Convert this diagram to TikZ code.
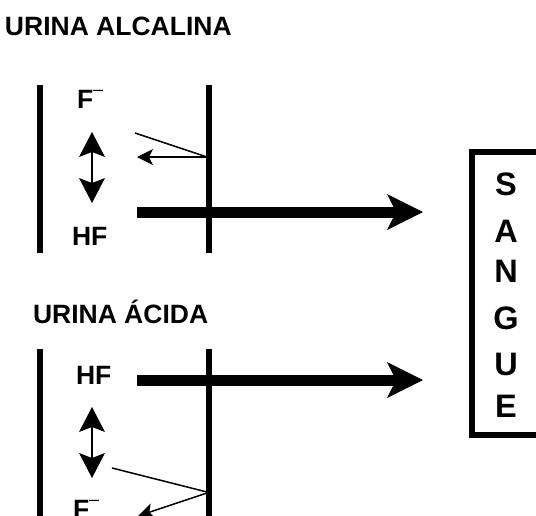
\documentclass[tikz,border=0pt]{standalone}
\usepackage{fontspec}
\setmainfont{Liberation Sans}
\usetikzlibrary{arrows.meta}
\begin{document}
\begin{tikzpicture}[x=1pt,y=-1pt,
  wall/.style={line width=6pt},
  thinline/.style={line width=1.5pt},
  bigarrow/.style={line width=11pt,-{Stealth[length=36pt,width=36pt,inset=9pt,line width=0pt]}},
  dblarrow/.style={line width=1.5pt,{Stealth[length=25pt,width=26pt,inset=5pt,line width=0pt]}-{Stealth[length=25pt,width=26pt,inset=5pt,line width=0pt]}},
  smallarrow/.style={line width=1.5pt,-{Stealth[length=16pt,width=16pt,inset=4pt,line width=0pt]}},
  txt/.style={font=\fontsize{26.5}{30}\selectfont\bfseries,inner sep=0pt,outer sep=0pt,anchor=base west},
  letter/.style={font=\fontsize{32.5}{36}\selectfont\bfseries,inner sep=0pt,outer sep=0pt,anchor=base},
  box/.style={draw,line width=6pt,inner sep=0pt,outer sep=0pt,minimum width=69pt,minimum height=283pt}
]
\useasboundingbox (0,0) rectangle (536,515);
\clip (0,0) rectangle (536,515);
\newcommand{\fminus}{F\raisebox{12.5pt}{\fontsize{18}{18}\selectfont\mdseries –}}

% titles
\node[txt] (t1) at (5,35) {URINA ALCALINA};
\node[txt] (t2) at (33,323) {URINA ÁCIDA};

% walls
\coordinate (w1a) at (40,85);  \coordinate (w1b) at (40,253);
\coordinate (w2a) at (209,85); \coordinate (w2b) at (209,253);
\coordinate (w3a) at (40,349); \coordinate (w3b) at (40,525);
\coordinate (w4a) at (209,349); \coordinate (w4b) at (209,525);
\draw[wall] (w1a) -- (w1b);
\draw[wall] (w2a) -- (w2b);
\draw[wall] (w3a) -- (w3b);
\draw[wall] (w4a) -- (w4b);

% top section
\node[txt] (fa) at (77,108) {\fminus};
\node[txt] (hfa) at (72,245) {HF};
\coordinate (da1) at (92,132); \coordinate (da2) at (92,203);
\draw[dblarrow] (da1) -- (da2);
\coordinate (sl1a) at (135,133); \coordinate (sl1b) at (207,157);
\draw[thinline] (sl1a) -- (sl1b);
\coordinate (sa1) at (207,157); \coordinate (sa2) at (137,157);
\draw[smallarrow] (sa1) -- (sa2);

% bottom section
\node[txt] (hfb) at (76,384) {HF};
\node[txt] (fb) at (73,518) {\fminus};
\coordinate (db1) at (92,407); \coordinate (db2) at (92,478);
\draw[dblarrow] (db1) -- (db2);
\coordinate (sl2a) at (112,468); \coordinate (sl2b) at (207,492);
\draw[thinline] (sl2a) -- (sl2b);
\coordinate (sb1) at (207,493); \coordinate (sb2) at (138,516);
\draw[smallarrow] (sb1) -- (sb2);

% big arrows
\coordinate (ba1) at (137,212); \coordinate (ba2) at (423,212);
\coordinate (bb1) at (137,380); \coordinate (bb2) at (423,380);
\draw[bigarrow] (ba1) -- (ba2);
\draw[bigarrow] (bb1) -- (bb2);

% sangue box
\node[box] (sangue) at (506.5,293.5) {};
\foreach \l/\y [count=\i] in {S/195,A/242,N/282,G/329.5,U/375,E/417}
  \node[letter] (L\i) at (506,\y) {\l};
\end{tikzpicture}
\end{document}
